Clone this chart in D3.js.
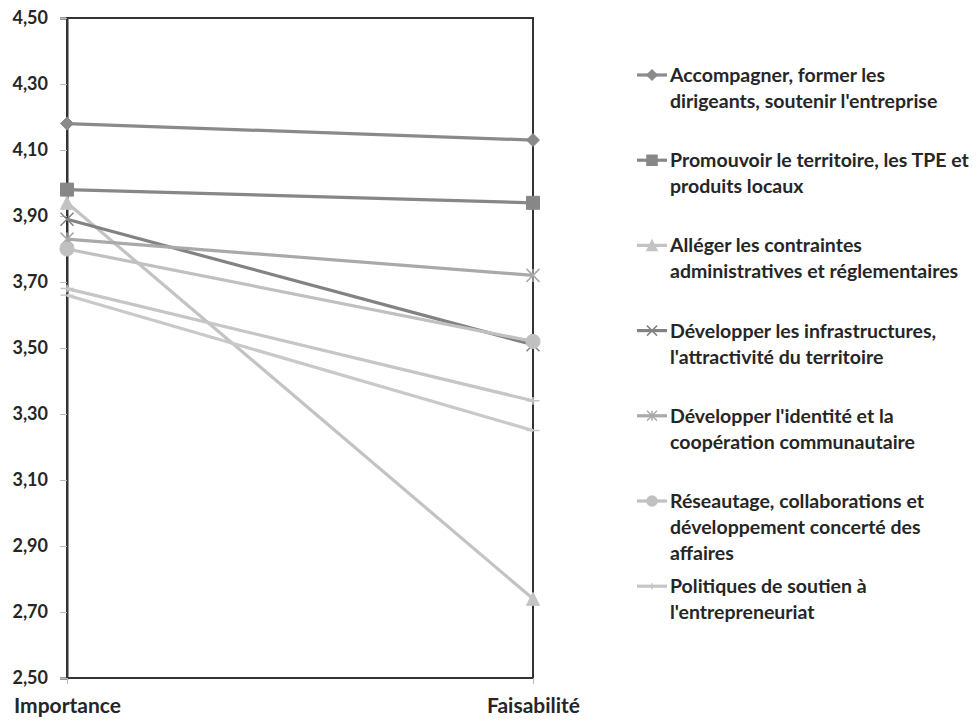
<!DOCTYPE html>
<html>
<head>
<meta charset="utf-8">
<script src="https://cdn.jsdelivr.net/npm/d3@7"></script>
<style>
  body { margin: 0; background: #fff; }
  text { font-family: Lato, "Open Sans", sans-serif; font-weight: 700; fill: #262626; }
</style>
</head>
<body>
<div id="chart"></div>
<script>
// categories (x axis)
const categories = ["Importance", "Faisabilité"];

// series names (legend), one per line
const seriesNames = [
    ["Accompagner, former les", "dirigeants, soutenir l'entreprise"],
    ["Promouvoir le territoire, les TPE et", "produits locaux"],
    ["Alléger les contraintes", "administratives et réglementaires"],
    ["Développer les infrastructures,", "l'attractivité du territoire"],
    ["Développer l'identité et la", "coopération communautaire"],
    ["Réseautage, collaborations et", "développement concerté des", "affaires"],
    ["Politiques de soutien à", "l'entrepreneuriat"],
    null // 8e série, absente de la légende
];

// values: [Importance, Faisabilité]
const importance  = [4.18, 3.98, 3.94, 3.89, 3.83, 3.80, 3.68, 3.66];
const faisabilite = [4.13, 3.94, 2.74, 3.51, 3.72, 3.52, 3.34, 3.25];

const seriesColors = ["#8a8a8a", "#878787", "#c3c3c3", "#828282", "#a9a9a9", "#c0c0c0", "#c6c6c6", "#c9c9c9"];
const seriesMarkers = ["diamond", "square", "triangle", "x", "star", "circle", "plus", "dash"];

const yTicks = [2.5, 2.7, 2.9, 3.1, 3.3, 3.5, 3.7, 3.9, 4.1, 4.3, 4.5];

const width = 980, height = 721;
const svg = d3.select("#chart").append("svg")
    .attr("width", width)
    .attr("height", height);

const x = d3.scalePoint().domain(categories).range([67, 533]);
const y = d3.scaleLinear().domain([2.5, 4.5]).range([678, 18]);

// cadre
svg.append("rect")
    .attr("x", x.range()[0]).attr("y", y(4.5))
    .attr("width", x.range()[1] - x.range()[0])
    .attr("height", y(2.5) - y(4.5))
    .attr("fill", "none").attr("stroke", "#333").attr("stroke-width", 2);

// axe Y
const yAxis = svg.append("g")
    .attr("transform", `translate(${x.range()[0]},0)`)
    .call(d3.axisLeft(y).tickValues(yTicks).tickSize(7).tickPadding(12)
        .tickFormat(d => d3.format(".2f")(d).replace(".", ",")));
yAxis.select(".domain").attr("stroke", "#333").attr("stroke-width", 2);
yAxis.selectAll(".tick line").attr("stroke", "#bbb");
yAxis.selectAll("text").style("font-size", "18px").attr("fill", "#262626").attr("font-family", null);

// axe X
const xAxis = svg.append("g")
    .attr("transform", `translate(0,${y(2.5)})`)
    .call(d3.axisBottom(x).tickSize(6).tickPadding(14));
xAxis.select(".domain").remove();
xAxis.selectAll(".tick line").attr("stroke", "#bbb");
xAxis.selectAll("text").style("font-size", "21px").attr("fill", "#262626").attr("font-family", null);

// symboles
function markerPath(type, s) {
    const h = s / 2;
    switch (type) {
        case "diamond": return `M0,${-h}L${h},0L0,${h}L${-h},0Z`;
        case "square": return `M${-h},${-h}H${h}V${h}H${-h}Z`;
        case "triangle": return `M0,${-h}L${h},${h}L${-h},${h}Z`;
        case "circle": return d3.symbol(d3.symbolCircle, s * s * 0.8)();
        case "x": return `M${-h},${-h}L${h},${h}M${-h},${h}L${h},${-h}`;
        case "star": return `M${-h},${-h}L${h},${h}M${-h},${h}L${h},${-h}M0,${-h}V${h}`;
        case "plus": return `M${-h},0H${h}M0,${-h * 0.6}V${h * 0.6}`;
        case "dash": return `M${-h},0H${h}`;
    }
}
const filled = t => ["diamond", "square", "triangle", "circle"].includes(t);

const line = d3.line().x(d => x(d.cat)).y(d => y(d.v));

importance.forEach((imp, i) => {
    const pts = [{cat: categories[0], v: imp}, {cat: categories[1], v: faisabilite[i]}];
    const g = svg.append("g");
    g.append("path")
        .attr("d", line(pts))
        .attr("fill", "none")
        .attr("stroke", seriesColors[i])
        .attr("stroke-width", 3.2);
    g.selectAll("path.m")
        .data(pts)
        .enter()
        .append("path")
        .attr("class", "m")
        .attr("transform", d => `translate(${x(d.cat)},${y(d.v)})`)
        .attr("d", markerPath(seriesMarkers[i], seriesMarkers[i] === "circle" ? 14 : 13))
        .attr("fill", filled(seriesMarkers[i]) ? seriesColors[i] : "none")
        .attr("stroke", seriesColors[i])
        .attr("stroke-width", filled(seriesMarkers[i]) ? 1 : 1.5);
});

// légende
const legend = svg.append("g").attr("transform", "translate(637,75)");
seriesNames.forEach((lines, i) => {
    if (!lines) return;
    const g = legend.append("g").attr("transform", `translate(0,${i * 85.2})`);
    g.append("line")
        .attr("x1", 0).attr("x2", 30).attr("y1", 0).attr("y2", 0)
        .attr("stroke", seriesColors[i]).attr("stroke-width", 3.2);
    g.append("path")
        .attr("transform", "translate(15,0)")
        .attr("d", markerPath(seriesMarkers[i], 10))
        .attr("fill", filled(seriesMarkers[i]) ? seriesColors[i] : "none")
        .attr("stroke", seriesColors[i])
        .attr("stroke-width", 1.5);
    const t = g.append("text")
        .attr("x", 33).attr("y", 7)
        .style("font-size", "19.5px");
    lines.forEach((l, k) => {
        t.append("tspan").attr("x", 33).attr("dy", k === 0 ? 0 : 26).text(l);
    });
});
</script>
</body>
</html>
